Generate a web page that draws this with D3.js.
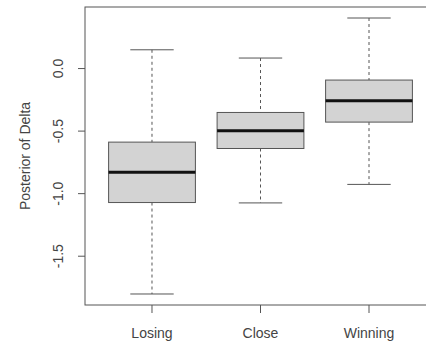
<!DOCTYPE html>
<html>
<head>
<meta charset="utf-8">
<script src="https://cdn.jsdelivr.net/npm/d3@7"></script>
<style>
  body { margin: 0; background: #fff; }
  text { font-family: "Liberation Sans", Arial, sans-serif; fill: #444; }
</style>
</head>
<body>
<div id="chart"></div>
<script>
// datos
const categories = ['Losing', 'Close', 'Winning']
const whiskerLow = [-1.806, -1.078, -0.93]
const q1 = [-1.075, -0.643, -0.432]
const median = [-0.832, -0.502, -0.262]
const q3 = [-0.592, -0.355, -0.096]
const whiskerHigh = [0.146, 0.08, 0.40]
const yTicks = [-1.5, -1.0, -0.5, 0.0]

const width = 426
const height = 347
const plot = { left: 85, top: 7, right: 436, bottom: 305 }

const data = categories.map((c, i) => ({
    name: c,
    lo: whiskerLow[i], q1: q1[i], med: median[i], q3: q3[i], hi: whiskerHigh[i]
}))

const svg = d3.select('#chart').append('svg').attr('width', width).attr('height', height)

const x = d3.scaleBand().domain(categories).range([plot.left, plot.right])
    .paddingInner(0.2).paddingOuter(0.2175)
const y = d3.scaleLinear().domain([-1.894, 0.488]).range([plot.bottom, plot.top])

const boxGroup = svg.append('g').attr('class', 'boxGroup')
const boxes = boxGroup.selectAll('g').data(data).enter().append('g')
const cx = d => x(d.name) + x.bandwidth() / 2
const capW = x.bandwidth() / 4

// bigotes
boxes.append('line')
    .attr('x1', cx).attr('x2', cx)
    .attr('y1', d => y(d.hi)).attr('y2', d => y(d.q3))
    .attr('stroke', '#555').attr('stroke-dasharray', '3,3')
boxes.append('line')
    .attr('x1', cx).attr('x2', cx)
    .attr('y1', d => y(d.q1)).attr('y2', d => y(d.lo))
    .attr('stroke', '#555').attr('stroke-dasharray', '3,3')
boxes.append('line')
    .attr('x1', d => cx(d) - capW).attr('x2', d => cx(d) + capW)
    .attr('y1', d => y(d.hi)).attr('y2', d => y(d.hi))
    .attr('stroke', '#555')
boxes.append('line')
    .attr('x1', d => cx(d) - capW).attr('x2', d => cx(d) + capW)
    .attr('y1', d => y(d.lo)).attr('y2', d => y(d.lo))
    .attr('stroke', '#555')

// cajas
boxes.append('rect')
    .attr('x', d => x(d.name))
    .attr('y', d => y(d.q3))
    .attr('width', x.bandwidth())
    .attr('height', d => y(d.q1) - y(d.q3))
    .attr('fill', '#d3d3d3').attr('stroke', '#555')
boxes.append('line')
    .attr('x1', d => x(d.name)).attr('x2', d => x(d.name) + x.bandwidth())
    .attr('y1', d => y(d.med)).attr('y2', d => y(d.med))
    .attr('stroke', '#111').attr('stroke-width', 3)

// marco
svg.append('rect')
    .attr('x', plot.left).attr('y', plot.top)
    .attr('width', plot.right - plot.left).attr('height', plot.bottom - plot.top)
    .attr('fill', 'none').attr('stroke', '#555')

// ejes
const yAxisGroup = svg.append('g').attr('transform', `translate(${plot.left},0)`)
    .call(d3.axisLeft(y).tickValues(yTicks).tickSize(7).tickFormat(d => d.toFixed(1)))
yAxisGroup.select('.domain').remove()
yAxisGroup.selectAll('.tick line').attr('stroke', '#555')
yAxisGroup.selectAll('.tick text')
    .attr('x', null).attr('dy', null)
    .attr('transform', 'translate(-27,0) rotate(-90)')
    .attr('text-anchor', 'middle').attr('dominant-baseline', 'central')
    .style('font-size', '14px').style('font-family', '"Liberation Sans", Arial, sans-serif').attr('fill', '#444')

const xAxisGroup = svg.append('g').attr('transform', `translate(0,${plot.bottom})`)
    .call(d3.axisBottom(x).tickSize(8))
xAxisGroup.select('.domain').remove()
xAxisGroup.selectAll('.tick line').attr('stroke', '#555')
xAxisGroup.selectAll('.tick text')
    .attr('y', 28).attr('dy', null).attr('dominant-baseline', 'central')
    .style('font-size', '14px').style('font-family', '"Liberation Sans", Arial, sans-serif').attr('fill', '#444')

svg.append('text')
    .attr('transform', `translate(25,${(plot.top + plot.bottom) / 2}) rotate(-90)`)
    .attr('text-anchor', 'middle').attr('dominant-baseline', 'central')
    .style('font-size', '14px')
    .text('Posterior of Delta')
</script>
</body>
</html>
